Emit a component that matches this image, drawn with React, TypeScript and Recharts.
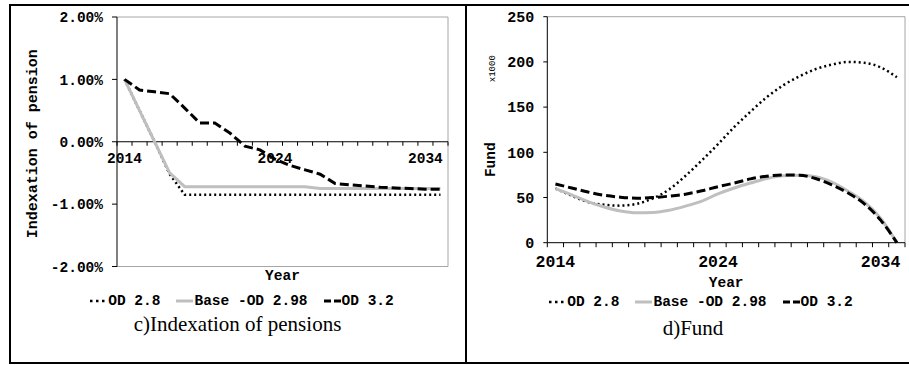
import React from 'react';
import { LineChart, Line, XAxis, YAxis, Legend, ReferenceLine } from 'recharts';

// ---------- data ----------
const years = [2014, 2015, 2016, 2017, 2018, 2019, 2020, 2021, 2022, 2023, 2024, 2025, 2026, 2027, 2028, 2029, 2030, 2031, 2032, 2033, 2034, 2035];
const xLabelYears = [2014, 2024, 2034];
const indexationTicks = [-2, -1, 0, 1, 2];
const fundTicks = [0, 50, 100, 150, 200, 250];
const seriesNames = ['OD 2.8', 'Base -OD 2.98', 'OD 3.2'];

// Indexation of pensions (%)
const indexationOD28 = [1.0, 0.5, 0.0, -0.52, -0.85, -0.85, -0.85, -0.85, -0.85, -0.85, -0.85, -0.85, -0.85, -0.85, -0.85, -0.85, -0.85, -0.85, -0.85, -0.85, -0.85, -0.85];
const indexationBase = [1.0, 0.5, 0.0, -0.5, -0.72, -0.72, -0.72, -0.72, -0.72, -0.72, -0.72, -0.72, -0.72, -0.75, -0.75, -0.75, -0.75, -0.75, -0.75, -0.75, -0.75, -0.75];
const indexationOD32 = [1.0, 0.83, 0.8, 0.77, 0.54, 0.3, 0.3, 0.14, -0.07, -0.13, -0.28, -0.38, -0.45, -0.52, -0.67, -0.69, -0.71, -0.73, -0.74, -0.75, -0.76, -0.76];

// Fund (x1000)
const fundOD28 = [60, 52, 45, 42, 41, 43, 49, 59, 74, 91, 109, 128, 145, 161, 174, 184, 192, 197, 200, 199, 194, 183];
const fundBase = [60, 53, 45.5, 39.5, 35, 33, 33.5, 36, 40.5, 46, 54, 60.5, 66, 71, 74, 74.5, 73, 67, 57, 45, 27, 0];
const fundOD32 = [65, 60.5, 56, 52.5, 50.3, 49.2, 50, 51.5, 53.7, 57.4, 62, 66, 70.6, 73.6, 75, 74.7, 71, 64, 55, 43, 25, 0];

const indexationData = years.map((year, i) => ({ year, od28: indexationOD28[i], base: indexationBase[i], od32: indexationOD32[i] }));
const fundData = years.map((year, i) => ({ year, od28: fundOD28[i], base: fundBase[i], od32: fundOD32[i] }));

const xBoundaries = [...years.map((y) => y - 0.5), years[years.length - 1] + 0.5];
const xDomain = [xBoundaries[0], xBoundaries[xBoundaries.length - 1]];
const xTicks = [...xBoundaries, ...xLabelYears].sort((a, b) => a - b);

// ---------- styles ----------
const MONO = "'Liberation Mono', 'Courier New', monospace";
const SERIF = "'Liberation Serif', 'Times New Roman', serif";
const GRAY_FRAME = '#a6a6a6';

const lineStyles = [
  { key: 'od28', stroke: '#000000', width: 2.5, dash: '2 3', iconDash: '2.5 3.5' },
  { key: 'base', stroke: '#bfbfbf', width: 3, dash: undefined as string | undefined, iconDash: undefined as string | undefined },
  { key: 'od32', stroke: '#000000', width: 3, dash: '9 4', iconDash: '7 3' },
];

// ---------- helpers ----------
const makeXTick = (shiftUp: number, fontSize: number, labelDy: number, tickLen: number) => (props: any) => {
  const { x, y, payload } = props;
  const v = payload && payload.value;
  const yy = y - shiftUp;
  if (xLabelYears.includes(v)) {
    return (
      <text x={x} y={yy + labelDy} textAnchor="middle" fill="#000" fontFamily={MONO} fontWeight="bold" fontSize={fontSize}>
        {v}
      </text>
    );
  }
  return <line x1={x} x2={x} y1={yy} y2={yy + tickLen} stroke="#000" strokeWidth={1} />;
};

const XTitle = (baselineDy: number) => (props: any) => {
  const vb = props.viewBox || { x: 0, y: 0, width: 0, height: 0 };
  return (
    <text x={vb.x + vb.width / 2} y={vb.y + baselineDy} textAnchor="middle" fill="#000" fontFamily={MONO} fontWeight="bold" fontSize={14.5}>
      Year
    </text>
  );
};

const LeftYTitle = (props: any) => {
  const vb = props.viewBox || { x: 57, y: 17, width: 60, height: 250 };
  const cx = vb.x + vb.width - 84;
  const cy = vb.y + vb.height / 2 + 2;
  return (
    <text x={cx} y={cy} transform={`rotate(-90 ${cx} ${cy})`} textAnchor="middle" dominantBaseline="central" fill="#000" fontFamily={MONO} fontWeight="bold" fontSize={15}>
      Indexation of pension
    </text>
  );
};

const RightYTitle = (props: any) => {
  const vb = props.viewBox || { x: 37, y: 17, width: 50, height: 222 };
  const right = vb.x + vb.width;
  const fx = right - 56;
  const fy = vb.y + vb.height / 2 + 30;
  const sx = right - 54;
  const sy = vb.y + 52;
  return (
    <g>
      <text x={fx} y={fy} transform={`rotate(-90 ${fx} ${fy})`} textAnchor="middle" dominantBaseline="central" fill="#000" fontFamily={MONO} fontWeight="bold" fontSize={14.5}>
        Fund
      </text>
      <text x={sx} y={sy} transform={`rotate(-90 ${sx} ${sy})`} textAnchor="middle" dominantBaseline="central" fill="#000" fontFamily={MONO} fontSize={9}>
        x1000
      </text>
    </g>
  );
};

const LegendRow = () => (
  <div
    style={{
      display: 'flex',
      justifyContent: 'center',
      alignItems: 'center',
      height: 20,
      fontFamily: MONO,
      fontWeight: 'bold',
      fontSize: 14.5,
      color: '#000',
      whiteSpace: 'nowrap',
    }}
  >
    {seriesNames.map((name, i) => {
      const s = lineStyles[i];
      return (
        <div key={name} style={{ display: 'flex', alignItems: 'center', marginLeft: i ? 16 : 0 }}>
          <svg width={17} height={10} style={{ display: 'block' }}>
            <line x1={0} x2={17} y1={5} y2={5} stroke={s.stroke} strokeWidth={s.width} strokeDasharray={s.iconDash} />
          </svg>
          <span style={{ marginLeft: 1 }}>{name}</span>
        </div>
      );
    })}
  </div>
);

const renderLines = (type: 'linear' | 'monotone') =>
  lineStyles.map((s, i) => (
    <Line
      key={s.key}
      type={type}
      dataKey={s.key}
      name={seriesNames[i]}
      stroke={s.stroke}
      strokeWidth={s.width}
      strokeDasharray={s.dash}
      dot={false}
      activeDot={false}
      isAnimationActive={false}
    />
  ));

const yTickStyle = { fill: '#000', fontFamily: MONO, fontWeight: 'bold', fontSize: 14.5 } as any;

// left plot area: top 17, bottom 266.5 -> zero line at half height
const LEFT_TOP = 17;
const LEFT_BOTTOM = 266.5;
const LEFT_HALF = (LEFT_BOTTOM - LEFT_TOP) / 2;

export default function App() {
  return (
    <div style={{ position: 'absolute', left: 0, top: 0, width: 909, height: 365, overflow: 'hidden', background: '#fff' }}>
      {/* outer frame and divider */}
      <div style={{ position: 'absolute', left: 9, top: 4, width: 920, height: 356, border: '2px solid #000' }} />
      <div style={{ position: 'absolute', left: 465, top: 4, width: 2, height: 360, background: '#000' }} />

      {/* left chart: indexation */}
      <div style={{ position: 'absolute', left: 0, top: 0 }}>
        <LineChart width={460} height={365} data={indexationData} margin={{ top: LEFT_TOP, right: 12, bottom: 74.5, left: 57 }}>
          <ReferenceLine y={2} stroke={GRAY_FRAME} strokeWidth={1} />
          <ReferenceLine y={-2} stroke={GRAY_FRAME} strokeWidth={1} />
          <ReferenceLine x={xDomain[1]} stroke={GRAY_FRAME} strokeWidth={1} />
          <ReferenceLine y={0} stroke="#000" strokeWidth={1} />
          <XAxis
            dataKey="year"
            type="number"
            domain={xDomain}
            ticks={xTicks}
            interval={0}
            axisLine={false}
            tickLine={false}
            tickSize={0}
            tickMargin={0}
            height={4}
            tick={makeXTick(LEFT_HALF, 14.5, 21, 4)}
            label={XTitle(13)}
          />
          <YAxis
            type="number"
            domain={[-2, 2]}
            ticks={indexationTicks}
            interval={0}
            width={60}
            tickSize={5}
            tickMargin={9}
            axisLine={{ stroke: '#000' }}
            tickLine={{ stroke: '#000' }}
            tick={yTickStyle}
            tickFormatter={(v: number) => `${v.toFixed(2)}%`}
            label={LeftYTitle}
          />
          {renderLines('linear')}
          <Legend verticalAlign="bottom" content={<LegendRow />} wrapperStyle={{ top: 291, left: 12, width: 460, height: 20 }} />
        </LineChart>
      </div>
      <div style={{ position: 'absolute', left: 87.5, top: 312, width: 300, textAlign: 'center', fontFamily: SERIF, fontSize: 21, lineHeight: '24px', color: '#000', whiteSpace: 'nowrap' }}>
        c)Indexation of pensions
      </div>

      {/* right chart: fund */}
      <div style={{ position: 'absolute', left: 460, top: 0 }}>
        <LineChart width={449} height={365} data={fundData} margin={{ top: 16.7, right: 4, bottom: 98.3, left: 37.3 }}>
          <ReferenceLine y={250} stroke={GRAY_FRAME} strokeWidth={1} />
          <ReferenceLine x={xDomain[1]} stroke={GRAY_FRAME} strokeWidth={1} />
          <XAxis
            dataKey="year"
            type="number"
            domain={xDomain}
            ticks={xTicks}
            interval={0}
            axisLine={{ stroke: '#000' }}
            tickLine={false}
            tickSize={0}
            tickMargin={0}
            height={4}
            tick={makeXTick(0, 16.5, 24.3, 4.5)}
            label={XTitle(44)}
          />
          <YAxis
            type="number"
            domain={[0, 250]}
            ticks={fundTicks}
            interval={0}
            width={50}
            tickSize={4}
            tickMargin={9}
            axisLine={{ stroke: '#000' }}
            tickLine={{ stroke: '#000' }}
            tick={{ ...yTickStyle, fontSize: 15 }}
            label={RightYTitle}
          />
          {renderLines('monotone')}
          <Legend verticalAlign="bottom" content={<LegendRow />} wrapperStyle={{ top: 292, left: 16.5, width: 449, height: 20 }} />
        </LineChart>
      </div>
      <div style={{ position: 'absolute', left: 543, top: 316, width: 300, textAlign: 'center', fontFamily: SERIF, fontSize: 21, lineHeight: '24px', color: '#000', whiteSpace: 'nowrap' }}>
        d)Fund
      </div>
    </div>
  );
}
